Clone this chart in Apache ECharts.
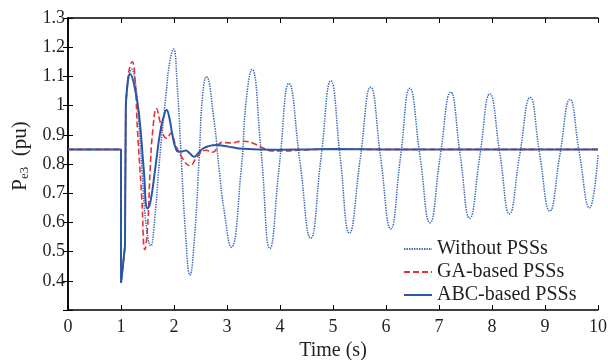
<!DOCTYPE html>
<html>
<head>
<meta charset="utf-8">
<script src="https://cdn.jsdelivr.net/npm/echarts@6/dist/echarts.min.js"></script>
<style>html,body{margin:0;padding:0;background:#fff}#c{width:608px;height:360px}</style>
</head>
<body>
<div id="c"></div>
<script>
// Series names
var seriesNames = ['Without PSSs', 'GA-based PSSs', 'ABC-based PSSs'];
// Tick labels
var xTickLabels = ['0','1','2','3','4','5','6','7','8','9','10'];
var yTickLabels = ['', '0.4','0.5','0.6','0.7','0.8','0.9','1','1.1','1.2','1.3'];
// Common pre-fault / fault segment (t, P) shared by all three responses
var faultPart = [[0,0.85],[1,0.85],[1,0.393],[1.03,0.44],[1.075,0.52],[1.09,0.99]];
// Without PSSs (t, P)
var withoutData = [[1.09,0.99],[1.14,1.09],[1.20,1.125],[1.27,1.08],[1.33,0.96],[1.40,0.77],[1.47,0.6],[1.56,0.52],[1.64,0.62],[1.72,0.80],[1.85,1.04],[1.92,1.15],[1.99,1.194],[2.06,1.07],[2.13,0.842],[2.22,0.557],[2.30,0.42],[2.39,0.557],[2.48,0.842],[2.54,1.036],[2.61,1.099],[2.75,0.957],[2.85,0.785],[2.94,0.648],[3.08,0.515],[3.27,0.785],[3.36,1.013],[3.47,1.124],[3.64,0.85],[3.81,0.511],[3.99,0.80],[4.17,1.076],[4.375,0.81],[4.58,0.546],[4.77,0.815],[4.96,1.085],[5.135,0.824],[5.31,0.563],[5.51,0.813],[5.71,1.063],[5.90,0.82],[6.09,0.578],[6.27,0.818],[6.45,1.059],[6.64,0.829],[6.83,0.599],[7.02,0.822],[7.22,1.046],[7.40,0.83],[7.58,0.614],[7.77,0.827],[7.96,1.040],[8.15,0.834],[8.33,0.629],[8.52,0.828],[8.72,1.028],[8.90,0.833],[9.09,0.639],[9.28,0.83],[9.47,1.021],[9.65,0.835],[9.84,0.650],[10,0.83]];
// GA-based PSSs (t, P)
var gaData = [[1.09,0.99],[1.13,1.09],[1.17,1.135],[1.21,1.15],[1.26,1.10],[1.31,0.92],[1.39,0.69],[1.45,0.507],[1.50,0.58],[1.55,0.78],[1.60,0.916],[1.67,0.99],[1.73,0.95],[1.80,0.9],[1.86,0.888],[1.94,0.905],[2.03,0.865],[2.16,0.82],[2.30,0.794],[2.44,0.825],[2.60,0.847],[2.72,0.84],[2.91,0.874],[3.07,0.872],[3.29,0.878],[3.48,0.872],[3.67,0.856],[3.85,0.845],[4.1,0.845],[4.4,0.848],[5,0.851],[6,0.85],[7,0.85],[8,0.85],[9,0.85],[10,0.85]];
// ABC-based PSSs (t, P)
var abcData = [[1.09,0.99],[1.12,1.07],[1.17,1.108],[1.25,1.07],[1.34,0.97],[1.43,0.78],[1.50,0.648],[1.55,0.665],[1.65,0.79],[1.74,0.91],[1.81,0.965],[1.86,0.985],[1.91,0.96],[1.97,0.9],[2.03,0.855],[2.09,0.842],[2.16,0.843],[2.22,0.846],[2.30,0.836],[2.38,0.825],[2.46,0.838],[2.55,0.853],[2.65,0.861],[2.8,0.865],[2.95,0.862],[3.1,0.857],[3.3,0.852],[3.6,0.85],[4,0.849],[4.5,0.85],[5,0.851],[6,0.85],[7,0.85],[8,0.85],[9,0.85],[10,0.85]];

var FONT = 'Liberation Serif';
var TXT = '#231f20';
var colWithout = '#3868bb', colGA = '#ec2f35', colABC = '#2a58a6';
var styleWithout = {color: colWithout, width: 1.5, type: [1.4, 1.1]};
var styleGA = {color: colGA, width: 1.6, type: [6, 3]};
var styleABC = {color: colABC, width: 2};

function mk(name, data, ls, smooth, z) {
  return {name: name, type: 'line', data: data, showSymbol: false, symbol: 'none',
    smooth: smooth, lineStyle: ls, itemStyle: {color: ls.color}, z: z, animation: false,
    xAxisIndex: 0, yAxisIndex: 0};
}

var chart = echarts.init(document.getElementById('c'), null, {renderer: 'canvas'});
var axisLine = {show: true, lineStyle: {color: '#000', width: 1.5}};
var tick = {inside: true, length: 5, lineStyle: {color: '#000', width: 1}};
chart.setOption({
  animation: false,
  backgroundColor: '#fff',
  grid: {left: 68, right: 10, top: 18, bottom: 50, containLabel: false, outerBoundsMode: 'none'},
  legend: {
    data: seriesNames, orient: 'vertical', left: 398, top: 234, itemGap: 3,
    itemWidth: 28, itemHeight: 14,
    itemStyle: {opacity: 0},
    textStyle: {fontFamily: FONT, fontSize: 20, color: TXT}
  },
  xAxis: [{
    type: 'value', min: 0, max: 10, interval: 1, position: 'bottom',
    name: 'Time (s)', nameLocation: 'middle', nameGap: 26,
    nameTextStyle: {fontFamily: FONT, fontSize: 20, color: TXT},
    axisLine: axisLine, axisTick: tick,
    splitLine: {show: false},
    axisLabel: {fontFamily: FONT, fontSize: 18, color: TXT, margin: 8,
      formatter: function (v) { return xTickLabels[Math.round(v)] || ''; }}
  }, {
    type: 'value', min: 0, max: 10, interval: 1, position: 'top',
    axisLine: axisLine, axisTick: tick,
    splitLine: {show: false}, axisLabel: {show: false}
  }],
  yAxis: [{
    type: 'value', min: 0.3, max: 1.3, interval: 0.1, position: 'left',
    axisLine: axisLine, axisTick: tick,
    splitLine: {show: false},
    axisLabel: {fontFamily: FONT, fontSize: 18, color: TXT, margin: 3,
      formatter: function (v) { return yTickLabels[Math.round((v - 0.3) / 0.1)] || ''; }}
  }, {
    type: 'value', min: 0.3, max: 1.3, interval: 0.1, position: 'right',
    axisLine: axisLine, axisTick: tick,
    splitLine: {show: false}, axisLabel: {show: false}
  }],
  graphic: [{
    type: 'text', x: 20, y: 156, rotation: Math.PI / 2, z: 10,
    style: {
      text: '{p|P}{s|e3}{p|  (pu)}',
      x: 0, y: 0, align: 'center', verticalAlign: 'middle',
      fill: TXT,
      rich: {
        p: {fontFamily: FONT, fontSize: 21, fill: TXT, lineHeight: 22, verticalAlign: 'middle'},
        s: {fontFamily: FONT, fontSize: 13, fill: TXT, lineHeight: 22, verticalAlign: 'bottom', padding: [10,0,0,0]}
      }
    }
  }],
  series: [
    mk(seriesNames[0], faultPart, styleWithout, false, 2),
    mk(seriesNames[0], withoutData, styleWithout, 0.5, 2),
    mk(seriesNames[1], faultPart, styleGA, false, 3),
    mk(seriesNames[1], gaData, styleGA, 0.5, 3),
    mk(seriesNames[2], faultPart, styleABC, false, 4),
    mk(seriesNames[2], abcData, styleABC, 0.5, 4)
  ]
});
</script>
</body>
</html>
